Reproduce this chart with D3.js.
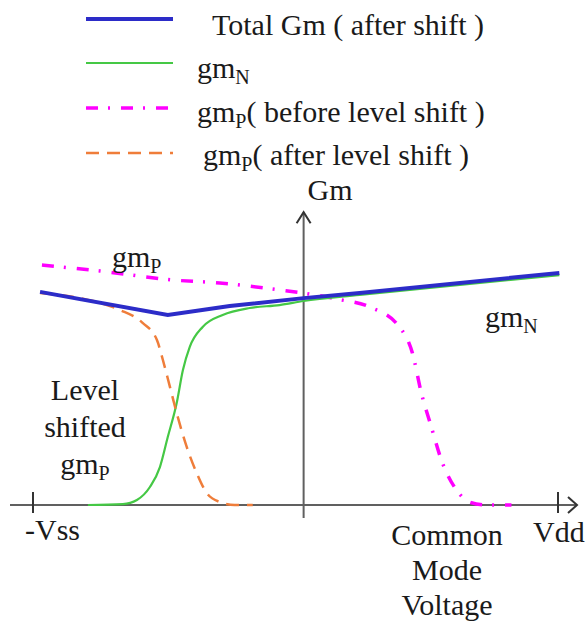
<!DOCTYPE html>
<html lang="en">
<head>
<meta charset="utf-8">
<style>
  body { margin: 0; background: #fff; }
  text { font-family: "Liberation Serif", "Times New Roman", serif; font-size: 30px; fill: #1a1a1a; }
  .axis { stroke: #606060; stroke-width: 2; fill: none; }
  .arrow { stroke: #333; stroke-width: 2; fill: none; }
  .curve { fill: none; }
</style>
</head>
<body>
<script src="https://d3js.org/d3.v7.min.js"></script>
<script>
var width = 585, height = 623;

// common mode voltage runs from -Vss to Vdd, Gm is normalised (sketch, no units)
var vss = -1, vdd = 0.94;
var xTickValues = [vss, vdd];
var xTickLabels = ["-Vss", "Vdd"];

// [voltage, Gm]
var totalGm = [[-0.974, 0.888], [-0.502, 0.792], [-0.273, 0.829], [0, 0.862], [0.207, 0.883], [0.945, 0.967]];

var gmN = [[-0.797, 0], [-0.668, 0.004], [-0.616, 0.021], [-0.568, 0.075], [-0.531, 0.158],
  [-0.502, 0.283], [-0.469, 0.425], [-0.446, 0.5625], [-0.421, 0.658], [-0.373, 0.742],
  [-0.299, 0.792], [-0.199, 0.821], [-0.089, 0.833], [0, 0.85], [0.207, 0.875], [0.945, 0.958]];

var gmPBefore = [[-0.967, 1.0], [-0.753, 0.975], [-0.483, 0.9375], [-0.31, 0.925], [-0.089, 0.896],
  [0, 0.883], [0.122, 0.858], [0.244, 0.825], [0.354, 0.742], [0.402, 0.633], [0.435, 0.467],
  [0.472, 0.325], [0.509, 0.1875], [0.565, 0.0625], [0.613, 0.0125], [0.675, 0], [0.768, 0]];

var gmPAfter = [[-0.974, 0.883], [-0.753, 0.842], [-0.679, 0.8125], [-0.594, 0.758], [-0.542, 0.6875],
  [-0.52, 0.604], [-0.494, 0.492], [-0.469, 0.383], [-0.432, 0.242], [-0.395, 0.133],
  [-0.358, 0.05], [-0.31, 0.0125], [-0.255, 0], [-0.188, 0]];

// legend text: main part, subscript, rest
var legendMain = ["Total Gm ( after shift )", "gm", "gm", "gm"];
var legendSub = ["", "N", "P", "P"];
var legendTail = ["", "", "( before level shift )", "( after level shift )"];

var series = [
  { data: gmPBefore, color: "#ff00ff", w: 3.5, dash: "12,10,2,11", curve: d3.curveMonotoneX, leg: 2 },
  { data: gmN, color: "#45c845", w: 2.2, dash: null, curve: d3.curveMonotoneX, leg: 1 },
  { data: gmPAfter, color: "#ef7d3a", w: 2.5, dash: "13,8", curve: d3.curveMonotoneX, leg: 3 },
  { data: totalGm, color: "#2c2cc8", w: 4, dash: null, curve: d3.curveLinear, leg: 0 }
];

var svg = d3.select("body").append("svg")
  .attr("width", width)
  .attr("height", height);

var x = d3.scaleLinear().domain([vss, vdd]).range([33, 558]);
var y = d3.scaleLinear().domain([0, 1]).range([505, 265]);

// axes (hand drawn style: arrow heads, crossing ticks)
var x0 = x(0), y0 = y(0);
var xEnd = x(vdd) + 19, yTop = y(1.22);

svg.append("line").attr("class", "axis")
  .attr("x1", x(vss) - 23).attr("x2", xEnd).attr("y1", y0).attr("y2", y0);
svg.append("line").attr("class", "axis")
  .attr("x1", x0).attr("x2", x0).attr("y1", y0 + 13).attr("y2", yTop);

svg.append("path").attr("class", "arrow")
  .attr("d", "M" + (xEnd - 9) + "," + (y0 - 8) + "L" + xEnd + "," + y0 + "L" + (xEnd - 9) + "," + (y0 + 8));
svg.append("path").attr("class", "arrow")
  .attr("d", "M" + (x0 - 7) + "," + (yTop + 11) + "L" + x0 + "," + yTop + "L" + (x0 + 7) + "," + (yTop + 11));

svg.selectAll(".tick").data(xTickValues).enter().append("line")
  .attr("class", "arrow tick")
  .attr("x1", function(d) { return x(d); }).attr("x2", function(d) { return x(d); })
  .attr("y1", y0 - 13).attr("y2", y0 + 8);

svg.selectAll(".tlab").data(xTickLabels).enter().append("text")
  .attr("class", "tlab")
  .attr("x", function(d, i) { return i == 0 ? x(vss) - 8 : x(vdd) - 25; })
  .attr("y", function(d, i) { return i == 0 ? y0 + 35 : y0 + 37; })
  .text(function(d) { return d; });

// curves
var line = d3.line().x(function(d) { return x(d[0]); }).y(function(d) { return y(d[1]); });

series.forEach(function(s) {
  svg.append("path").datum(s.data)
    .attr("class", "curve")
    .attr("stroke", s.color)
    .attr("stroke-width", s.w)
    .attr("stroke-dasharray", s.dash)
    .attr("d", line.curve(s.curve));
});

// text with an optional subscript
function label(px, py, main, sub, tail, anchor) {
  var t = svg.append("text").attr("x", px).attr("y", py).attr("text-anchor", anchor || "start");
  t.append("tspan").text(main);
  if (sub) t.append("tspan").attr("dy", 6).style("font-size", "20px").text(sub);
  if (tail) t.append("tspan").attr("dy", sub ? -6 : 0).text(tail);
  return t;
}

// legend
var legY = [19, 63, 108, 153];
var legTextX = [212, 197, 197, 203];
var legTextY = [35, 78, 122, 165];

series.forEach(function(s) {
  var i = s.leg;
  svg.append("line")
    .attr("x1", 86).attr("x2", 173).attr("y1", legY[i]).attr("y2", legY[i])
    .attr("stroke", s.color).attr("stroke-width", s.w)
    .attr("stroke-dasharray", s.dash);
  label(legTextX[i], legTextY[i], legendMain[i], legendSub[i], legendTail[i]);
});

// annotations
label(x0 + 4, 200, "Gm");
label(112, 267, "gm", "P");
label(485, 327, "gm", "N");

label(85, 400, "Level", "", "", "middle");
label(85, 437, "shifted", "", "", "middle");
label(85, 474, "gm", "P", "", "middle");

label(447, 545, "Common", "", "", "middle");
label(447, 580, "Mode", "", "", "middle");
label(447, 615, "Voltage", "", "", "middle");
</script>
</body>
</html>
